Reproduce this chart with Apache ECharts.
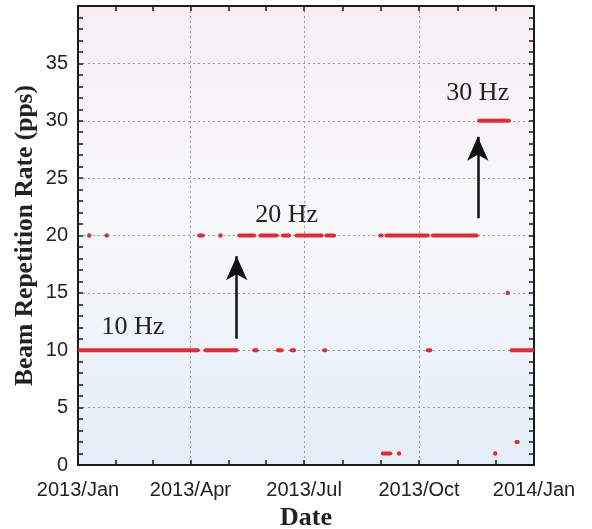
<!DOCTYPE html>
<html>
<head>
<meta charset="utf-8">
<script src="https://cdn.jsdelivr.net/npm/echarts@6/dist/echarts.min.js"></script>
<style>
html,body{margin:0;padding:0;background:#fff;}
#chart{width:592px;height:529px;}
</style>
</head>
<body>
<div id="chart"></div>
<script>
// ---- data (segments of beam operation: [start, end]) ----
const rate10 = [
  ['2013-01-02','2013-04-07'], ['2013-04-13','2013-05-08'], ['2013-05-22','2013-05-24'],
  ['2013-06-10','2013-06-13'], ['2013-06-21','2013-06-23'], ['2013-07-17','2013-07-18'],
  ['2013-10-08','2013-10-10'], ['2013-12-14','2013-12-31']
];
const rate20 = [
  ['2013-01-10','2013-01-10'], ['2013-01-24','2013-01-24'], ['2013-04-08','2013-04-11'],
  ['2013-04-25','2013-04-25'], ['2013-05-10','2013-05-22'], ['2013-05-27','2013-06-09'],
  ['2013-06-14','2013-06-19'], ['2013-06-25','2013-07-15'], ['2013-07-19','2013-07-25'],
  ['2013-08-31','2013-09-01'], ['2013-09-05','2013-10-08'], ['2013-10-12','2013-11-16']
];
const rate30 = [['2013-11-18','2013-12-12']];
const rate15 = [['2013-12-11','2013-12-11']];
const rate1  = [['2013-09-02','2013-09-08'], ['2013-09-15','2013-09-15'], ['2013-12-01','2013-12-01']];
const rate2  = [['2013-12-18','2013-12-19']];

const xRange = ['2013-01-01', '2014-01-01'];
const yTicks = [0, 5, 10, 15, 20, 25, 30, 35, 40];
const monthNames = ['Jan','Feb','Mar','Apr','May','Jun','Jul','Aug','Sep','Oct','Nov','Dec'];

const annotations = [
  { text: '10 Hz', date: '2013-02-14', y: 12.0 },
  { text: '20 Hz', date: '2013-06-17', y: 21.8 },
  { text: '30 Hz', date: '2013-11-17', y: 32.4 }
];
const arrows = [
  { date: '2013-05-08', from: 11.0, to: 18.2 },
  { date: '2013-11-17', from: 21.5, to: 28.6 }
];

// ---- build ----
function ts(s) { return new Date(s + 'T00:00:00').getTime(); }
const RED = '#e8282e';
const segData = [];
[[rate10,10],[rate20,20],[rate30,30],[rate15,15],[rate1,1],[rate2,2]].forEach(([arr, v]) => {
  arr.forEach(s => segData.push([ts(s[0]), ts(s[1]), v]));
});

const tickColor = '#1a1a1a';
function makeX(pos, showLabel) {
  return {
    type: 'time', position: pos,
    min: ts(xRange[0]), max: ts(xRange[1]),
    splitNumber: 4,
    axisLine: { show: true, onZero: false, lineStyle: { color: tickColor, width: 2 } },
    axisTick: { show: true, inside: true, length: 5, lineStyle: { color: tickColor, width: 1.5 } },
    minorTick: { show: true, splitNumber: 3, length: 5, lineStyle: { color: tickColor, width: 1.5 } },
    axisLabel: {
      show: showLabel, margin: 15, color: '#222', fontFamily: 'Liberation Sans', fontSize: 20,
      showMinLabel: true, showMaxLabel: true, hideOverlap: false,
      formatter: function (v) { const d = new Date(v); return d.getFullYear() + '/' + monthNames[d.getMonth()]; }
    },
    splitLine: { show: showLabel, lineStyle: { color: '#9a9a9a', width: 1, type: [2, 3] } },
    name: showLabel ? 'Date' : '',
    nameLocation: 'middle', nameGap: 40, nameMoveOverlap: false,
    nameTextStyle: { fontFamily: 'Liberation Serif', fontWeight: 'bold', fontSize: 26, color: '#222' }
  };
}
function makeY(pos, showLabel) {
  return {
    type: 'value', position: pos,
    min: yTicks[0], max: yTicks[yTicks.length - 1], interval: yTicks[1] - yTicks[0],
    axisLine: { show: true, onZero: false, lineStyle: { color: tickColor, width: 2 } },
    axisTick: { show: true, inside: true, length: 5, lineStyle: { color: tickColor, width: 1.5 } },
    minorTick: { show: true, splitNumber: 5, length: 5, lineStyle: { color: tickColor, width: 1.5 } },
    axisLabel: {
      show: showLabel, margin: 10, color: '#222', fontFamily: 'Liberation Sans', fontSize: 20,
      formatter: function (v) { return v === yTicks[yTicks.length - 1] ? '' : String(v); }
    },
    splitLine: { show: showLabel, lineStyle: { color: '#9a9a9a', width: 1, type: [2, 3] } },
    name: showLabel ? 'Beam Repetition Rate (pps)' : '',
    nameLocation: 'middle', nameGap: 40, nameMoveOverlap: false,
    nameTextStyle: { fontFamily: 'Liberation Serif', fontWeight: 'bold', fontSize: 25.5, color: '#222' }
  };
}

const chart = echarts.init(document.getElementById('chart'), null, { renderer: 'canvas' });
chart.setOption({
  animation: false,
  backgroundColor: '#ffffff',
  grid: {
    left: 78, right: 58, top: 6, bottom: 64,
    containLabel: false, outerBoundsMode: 'none',
    show: true, borderWidth: 0,
    backgroundColor: new echarts.graphic.LinearGradient(0, 0, 0, 1, [
      { offset: 0, color: '#f6eef2' },
      { offset: 0.45, color: '#f8f9fb' },
      { offset: 1, color: '#e3eef8' }
    ])
  },
  xAxis: [makeX('bottom', true), makeX('top', false)],
  yAxis: [makeY('left', true), makeY('right', false)],
  series: [
    {
      type: 'custom', xAxisIndex: 0, yAxisIndex: 0,
      clip: true,
      encode: { x: [0, 1], y: 2 },
      data: segData,
      renderItem: function (params, api) {
        const p1 = api.coord([api.value(0), api.value(2)]);
        const p2 = api.coord([api.value(1), api.value(2)]);
        if (Math.abs(p2[0] - p1[0]) < 0.5) {
          return {
            type: 'circle',
            shape: { cx: p1[0], cy: p1[1], r: 2.2 },
            style: { fill: RED }
          };
        }
        return {
          type: 'line',
          shape: { x1: p1[0], y1: p1[1], x2: p2[0], y2: p2[1] },
          style: { stroke: RED, lineWidth: 4, lineCap: 'round', fill: null }
        };
      },
      z: 5
    },
    {
      type: 'line', xAxisIndex: 0, yAxisIndex: 0, data: [], silent: true,
      markLine: {
        silent: true, symbol: ['none', 'arrow'], symbolSize: [16, 24],
        lineStyle: { color: '#111', width: 2.5, type: 'solid' },
        label: { show: false },
        data: arrows.map(a => [{ coord: [ts(a.date), a.from] }, { coord: [ts(a.date), a.to] }])
      },
      markPoint: {
        silent: true, symbol: 'circle', symbolSize: 0,
        label: { show: true, position: 'inside', fontFamily: 'Liberation Serif', fontSize: 26, color: '#222',
                 formatter: function (p) { return p.name; } },
        data: annotations.map(a => ({ name: a.text, coord: [ts(a.date), a.y] }))
      }
    }
  ]
});
</script>
</body>
</html>
